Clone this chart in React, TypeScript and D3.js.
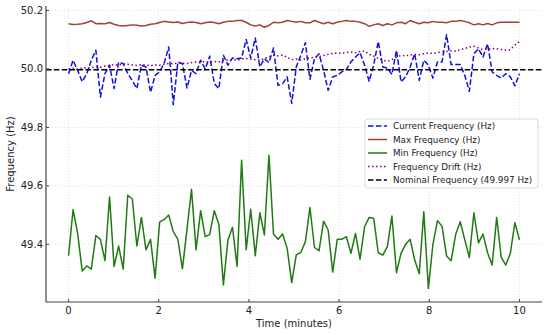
import React from "react";
import * as d3 from "d3";

// time axis: 100 samples over 10 minutes
const time = d3.range(100).map((i) => (i * 10) / 99);

const currentFreq = [
  49.984, 50.03, 49.995, 49.956, 49.984, 50.03, 50.064, 49.904, 49.984, 50.013,
  49.933, 50.024, 50.018, 49.985, 49.96, 49.933, 50.013, 50.007, 49.92, 49.978,
  49.99, 50.02, 50.075, 49.878, 50.024, 50.018, 49.935, 49.995, 49.984, 50.03,
  50.0, 50.044, 49.95, 49.933, 50.047, 50.013, 50.038, 50.035, 50.038, 50.101,
  50.038, 50.106, 50.007, 50.035, 50.022, 50.072, 49.944, 49.95, 49.973, 49.882,
  50.007, 50.047, 50.09, 49.965, 50.035, 50.052, 49.995, 49.927, 49.973, 49.978,
  49.99, 49.999, 50.024, 50.041, 50.056, 50.013, 49.958, 50.015, 50.094, 50.007,
  50.003, 49.981, 50.064, 49.956, 49.973, 50.007, 50.052, 49.961, 50.03, 50.013,
  49.969, 50.024, 50.024, 50.117, 50.015, 50.015, 50.015, 49.978, 49.924, 50.052,
  50.069, 50.041, 50.086, 49.99, 49.978, 49.969, 49.984, 49.973, 49.942, 49.984,
];

const maxFreq = [
  50.155, 50.152, 50.153, 50.155, 50.159, 50.165, 50.155, 50.156, 50.155, 50.159,
  50.153, 50.149, 50.147, 50.149, 50.151, 50.150, 50.147, 50.149, 50.153, 50.155,
  50.159, 50.163, 50.161, 50.159, 50.161, 50.156, 50.159, 50.161, 50.159, 50.155,
  50.158, 50.161, 50.159, 50.155, 50.160, 50.163, 50.163, 50.166, 50.166, 50.160,
  50.151, 50.147, 50.151, 50.143, 50.149, 50.160, 50.158, 50.160, 50.166, 50.163,
  50.160, 50.163, 50.158, 50.158, 50.166, 50.160, 50.155, 50.160, 50.155, 50.160,
  50.163, 50.166, 50.163, 50.163, 50.160, 50.155, 50.146, 50.151, 50.155, 50.149,
  50.155, 50.151, 50.158, 50.160, 50.155, 50.166, 50.160, 50.155, 50.160, 50.158,
  50.163, 50.160, 50.160, 50.158, 50.163, 50.163, 50.166, 50.163, 50.158, 50.151,
  50.155, 50.151, 50.156, 50.151, 50.158, 50.160, 50.160, 50.160, 50.160, 50.160,
];

const minFreq = [
  49.361, 49.519, 49.437, 49.309, 49.326, 49.315, 49.43, 49.417, 49.344, 49.562,
  49.324, 49.394, 49.315, 49.568, 49.555, 49.394, 49.492, 49.381, 49.417, 49.284,
  49.476, 49.485, 49.5, 49.443, 49.417, 49.316, 49.45, 49.588, 49.381, 49.515,
  49.426, 49.434, 49.515, 49.469, 49.261, 49.415, 49.458, 49.324, 49.688, 49.381,
  49.52, 49.361, 49.508, 49.432, 49.705, 49.435, 49.417, 49.435, 49.386, 49.269,
  49.364, 49.372, 49.409, 49.526, 49.389, 49.378, 49.479, 49.449, 49.305, 49.417,
  49.417, 49.426, 49.369, 49.437, 49.349, 49.46, 49.492, 49.489, 49.371, 49.363,
  49.392, 49.497, 49.303, 49.369, 49.4, 49.417, 49.346, 49.299, 49.511, 49.249,
  49.4, 49.481, 49.462, 49.36, 49.344, 49.434, 49.477, 49.415, 49.355, 49.508,
  49.405, 49.435, 49.371, 49.329, 49.492, 49.355, 49.329, 49.369, 49.474, 49.415,
];

const drift = [
  50.0, 50.002, 49.999, 50.003, 50.005, 50.004, 50.008, 50.006, 50.01, 50.012,
  50.015, 50.013, 50.018, 50.016, 50.014, 50.012, 50.015, 50.013, 50.011, 50.014,
  50.013, 50.016, 50.019, 50.018, 50.021, 50.02, 50.019, 50.022, 50.024, 50.023,
  50.025, 50.024, 50.026, 50.024, 50.028, 50.031, 50.033, 50.03, 50.034, 50.036,
  50.034, 50.032, 50.03, 50.036, 50.042, 50.047, 50.045, 50.048, 50.04, 50.032,
  50.034, 50.031, 50.035, 50.038, 50.04, 50.042, 50.046, 50.05, 50.053, 50.055,
  50.054, 50.057, 50.058, 50.056, 50.06, 50.062, 50.05, 50.044, 50.036, 50.03,
  50.026, 50.032, 50.04, 50.047, 50.045, 50.048, 50.05, 50.049, 50.052, 50.055,
  50.053, 50.056, 50.058, 50.06, 50.062, 50.061, 50.066, 50.07, 50.075, 50.078,
  50.072, 50.066, 50.068, 50.07, 50.069, 50.067, 50.064, 50.066, 50.082, 50.094,
];

const nominal = 49.997;
const xTicks = [0, 2, 4, 6, 8, 10];
const yTicks = [49.4, 49.6, 49.8, 50.0, 50.2];

const series = [
  { label: "Current Frequency (Hz)", values: currentFreq, color: "#1010e0", dash: "5.5,2.4" },
  { label: "Max Frequency (Hz)", values: maxFreq, color: "#a0442a", dash: null },
  { label: "Min Frequency (Hz)", values: minFreq, color: "#1f7a12", dash: null },
  { label: "Frequency Drift (Hz)", values: drift, color: "#800080", dash: "1.5,2.5" },
];

const font = "DejaVu Sans, sans-serif";

export default function App() {
  const width = 550;
  const height = 335;
  const left = 46, right = 542, top = 6, bottom = 302;

  const x = d3.scaleLinear().domain([-0.5, 10.5]).range([left, right]);
  const y = d3.scaleLinear().domain([49.2025, 50.2156]).range([bottom, top]);

  const line = (vals: number[]) =>
    d3
      .line<number>()
      .x((_, i) => x(time[i]))
      .y((d) => y(d))(vals) as string;

  const legendItems = [
    ...series.map((s) => ({ label: s.label, color: s.color, dash: s.dash })),
    { label: "Nominal Frequency (49.997 Hz)", color: "#000", dash: "5.5,2.4" },
  ];

  return (
    <svg
      width={width}
      height={height}
      style={{ position: "absolute", left: 0, top: 0, background: "#fff" }}
      fontFamily={font}
    >
      {/* grid */}
      <g stroke="#d8d8d8" strokeWidth={0.8} strokeDasharray="1,2">
        {xTicks.map((t) => (
          <line key={"gx" + t} x1={x(t)} x2={x(t)} y1={top} y2={bottom} />
        ))}
        {yTicks.map((t) => (
          <line key={"gy" + t} x1={left} x2={right} y1={y(t)} y2={y(t)} />
        ))}
      </g>

      {/* series */}
      {series.map((s) => (
        <path
          key={s.label}
          d={line(s.values)}
          fill="none"
          stroke={s.color}
          strokeWidth={1.5}
          strokeDasharray={s.dash || undefined}
          strokeLinejoin="round"
        />
      ))}
      <line
        x1={left}
        x2={right}
        y1={y(nominal)}
        y2={y(nominal)}
        stroke="#000"
        strokeWidth={1.5}
        strokeDasharray="5.5,2.4"
      />

      {/* spines */}
      <line x1={left} x2={left} y1={top} y2={bottom} stroke="#444" strokeWidth={1.2} />
      <line x1={left} x2={right} y1={bottom} y2={bottom} stroke="#444" strokeWidth={1.2} />

      {/* y ticks */}
      {yTicks.map((t) => (
        <g key={"yt" + t}>
          <line x1={left} x2={left + 3} y1={y(t)} y2={y(t)} stroke="#444" />
          <text x={43} y={y(t)} dy="0.35em" textAnchor="end" fontSize={10} fill="#222">
            {t.toFixed(1)}
          </text>
        </g>
      ))}
      {/* x ticks */}
      {xTicks.map((t) => (
        <g key={"xt" + t}>
          <line x1={x(t)} x2={x(t)} y1={bottom} y2={bottom - 3} stroke="#444" />
          <text x={x(t)} y={314} textAnchor="middle" fontSize={10} fill="#222">
            {t}
          </text>
        </g>
      ))}

      <text x={(left + right) / 2} y={327} textAnchor="middle" fontSize={10} fill="#222">
        Time (minutes)
      </text>
      <text
        transform={`translate(14,${(top + bottom) / 2}) rotate(-90)`}
        textAnchor="middle"
        fontSize={10}
        fill="#222"
      >
        Frequency (Hz)
      </text>

      {/* legend */}
      <g>
        <rect
          x={365}
          y={119}
          width={173}
          height={69}
          rx={3}
          fill="#fff"
          fillOpacity={0.8}
          stroke="#d0d0d0"
          strokeWidth={0.8}
        />
        {legendItems.map((it, i) => {
          const ly = 126 + i * 13.5;
          return (
            <g key={it.label}>
              <line
                x1={368}
                x2={387}
                y1={ly}
                y2={ly}
                stroke={it.color}
                strokeWidth={1.5}
                strokeDasharray={it.dash || undefined}
              />
              <text x={393} y={ly} dy="0.35em" fontSize={8.8} fill="#222">
                {it.label}
              </text>
            </g>
          );
        })}
      </g>
    </svg>
  );
}
